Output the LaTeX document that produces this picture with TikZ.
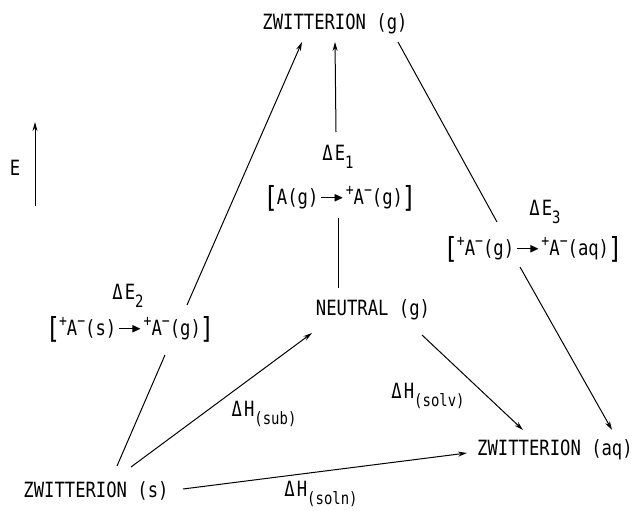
\documentclass[tikz,border=0pt]{standalone}
\usepackage{fontspec}
\usepackage{amssymb}
\usetikzlibrary{arrows.meta}
\newfontfamily\plotf[FakeStretch=0.82]{DejaVu Sans Mono}
\newcommand\pf{\plotf\fontsize{21}{21}\selectfont}
\newcommand\upk[1]{\raisebox{0.42em}{\fontsize{16}{16}\selectfont #1}}
\newcommand\dnk[1]{\raisebox{-0.35em}{\fontsize{17}{17}\selectfont #1}}
\newcommand\rarr{\kern0.12em\rule[0.3em]{0.85em}{0.07em}\kern-0.25em\raisebox{0.16em}{\fontsize{13}{13}\selectfont$\blacktriangleright$}\kern0.1em}
\newcommand\lbk{\raisebox{-2.5pt}{\fontsize{29}{29}\selectfont[}\kern-0.05em}
\newcommand\rbk{\kern-0.05em\raisebox{-2.5pt}{\fontsize{29}{29}\selectfont]}}
\begin{document}
\begin{tikzpicture}[x=1pt,y=-1pt,
  lab/.style={font=\pf, inner sep=0pt},
  ln/.style={line width=1pt},
  arr/.style={line width=1pt, -{Stealth[length=9pt,width=5pt]}}]
\useasboundingbox (0,0) rectangle (635,511);
% states
\node[lab] (zg)  at (335,24)  {ZWITTERION (g)};
\node[lab] (zs)  at (96,491)  {ZWITTERION (s)};
\node[lab] (zaq) at (555,450) {ZWITTERION (aq)};
\node[lab] (neu) at (373,310) {NEUTRAL (g)};
% energy axis
\node[lab] (elab) at (15,168) {E};
\coordinate (ebot) at (35,206);
\coordinate (etop) at (35,122);
\draw[arr] (ebot) -- (etop);
% labels
\node[lab] (de1) at (338,157) {Δ\kern0.1em E\dnk{1}};
\node[lab] (b1)  at (340,198) {\lbk A(g)\rarr\upk{+}A\upk{−}(g)\rbk};
\node[lab] (de2) at (128,296) {Δ\kern0.1em E\dnk{2}};
\node[lab] (b2)  at (130,329) {\lbk\upk{+}A\upk{−}(s)\rarr\upk{+}A\upk{−}(g)\rbk};
\node[lab] (de3) at (545,212) {Δ\kern0.1em E\dnk{3}};
\node[lab] (b3)  at (533,249) {\lbk\upk{+}A\upk{−}(g)\rarr\upk{+}A\upk{−}(aq)\rbk};
\node[lab] (hsub)  at (264,414) {Δ\kern0.1em H\dnk{(sub)}};
\node[lab] (hsolv) at (428,396) {Δ\kern0.1em H\dnk{(solv)}};
\node[lab] (hsoln) at (321,494) {Δ\kern0.1em H\dnk{(soln)}};
% connector end points
\coordinate (l1a) at (117,466); \coordinate (l1b) at (165,355);
\coordinate (l1c) at (187,305); \coordinate (l1d) at (302,42);
\coordinate (v1a) at (338,288); \coordinate (v1b) at (338,218);
\coordinate (v1c) at (336,132); \coordinate (v1d) at (335,42);
\coordinate (r1a) at (398,42);  \coordinate (r1b) at (497,222);
\coordinate (r1c) at (520,267); \coordinate (r1d) at (612,430);
\coordinate (s1a) at (131,467); \coordinate (s1b) at (312,333);
\coordinate (n1a) at (422,335); \coordinate (n1b) at (523,430);
\coordinate (q1a) at (183,489); \coordinate (q1b) at (467,453);
% connectors
\draw[ln]  (l1a) -- (l1b);
\draw[arr] (l1c) -- (l1d);
\draw[ln]  (v1a) -- (v1b);
\draw[arr] (v1c) -- (v1d);
\draw[ln]  (r1a) -- (r1b);
\draw[arr] (r1c) -- (r1d);
\draw[arr] (s1a) -- (s1b);
\draw[arr] (n1a) -- (n1b);
\draw[arr] (q1a) -- (q1b);
\end{tikzpicture}
\end{document}
